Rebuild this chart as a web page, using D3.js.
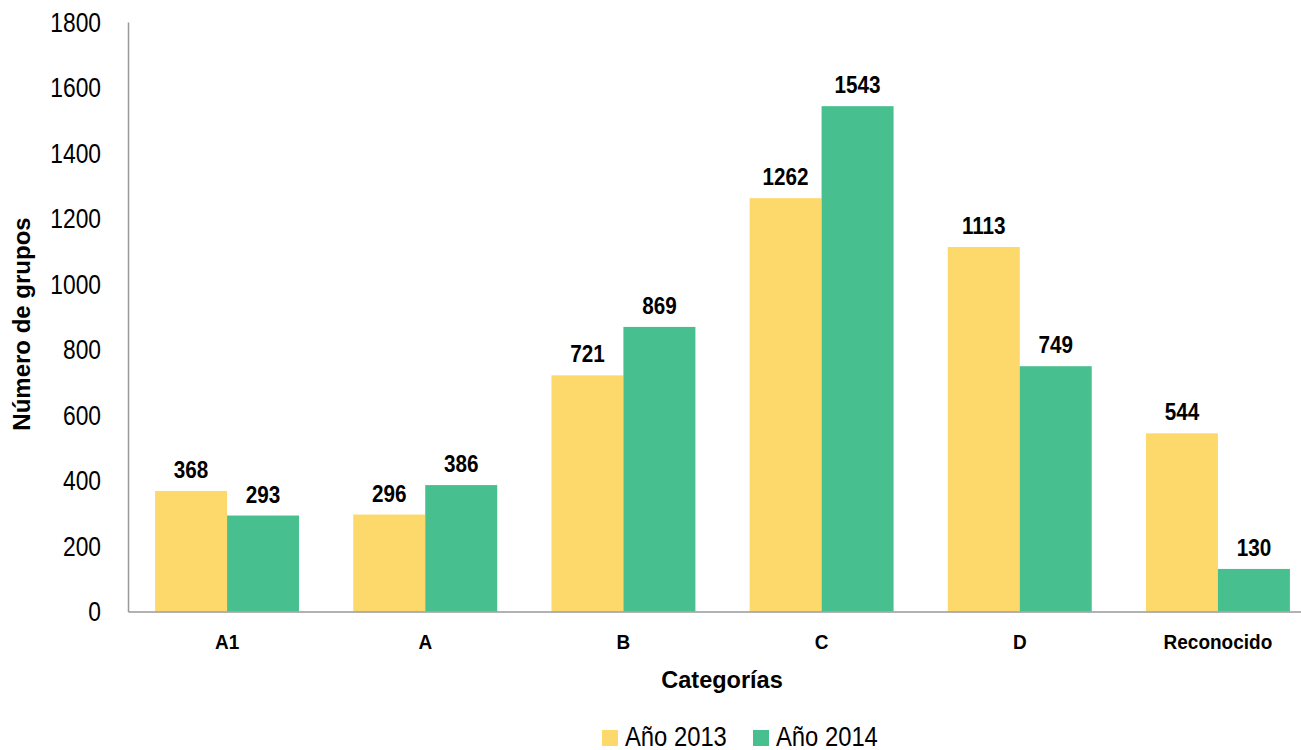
<!DOCTYPE html>
<html>
<head>
<meta charset="utf-8">
<script src="https://cdn.jsdelivr.net/npm/d3@7"></script>
<style>
  body { margin: 0; background: #fff; }
  text { font-family: "Liberation Sans", Arial, sans-serif; fill: #000; }
</style>
</head>
<body>
<div id="chart"></div>
<script>
const width = 1301;
const height = 750;

// Data
const categories = ["A1", "A", "B", "C", "D", "Reconocido"];
const series = ["Año 2013", "Año 2014"];
const values2013 = [368, 296, 721, 1262, 1113, 544];
const values2014 = [293, 386, 869, 1543, 749, 130];
const yTicks = [0, 200, 400, 600, 800, 1000, 1200, 1400, 1600, 1800];
const colors = ["#FDD86A", "#48BF8E"];

const margin = { top: 22, left: 128 };
const plotW = 1189;   // plot area runs a bit past the right edge, as in the original
const plotH = 589.5;

// squeeze text horizontally around its own x (no narrow font installed)
function condense(sel, k) {
  sel.each(function () {
    const t = d3.select(this);
    const x0 = +t.attr("x") || 0;
    t.attr("transform", `translate(${x0},0) scale(${k},1) translate(${-x0},0)`);
  });
}

const svg = d3.select("#chart").append("svg")
  .attr("width", width)
  .attr("height", height);

const g = svg.append("g").attr("transform", `translate(${margin.left},${margin.top})`);

const x = d3.scaleBand().domain(categories).range([0, plotW]).paddingInner(0.2735).paddingOuter(0.1367);
const xs = d3.scaleBand().domain(series).range([0, x.bandwidth()]);
const y = d3.scaleLinear().domain([0, 1800]).range([plotH, 0]);

const rows = categories.map((c, i) => ({ cat: c, vals: [values2013[i], values2014[i]] }));

// bars
const grp = g.selectAll(".grp")
  .data(rows)
  .join("g")
  .attr("transform", d => `translate(${x(d.cat)},0)`);

grp.selectAll("rect")
  .data(d => d.vals.map((v, k) => ({ s: series[k], v, k })))
  .join("rect")
  .attr("x", d => xs(d.s))
  .attr("y", d => y(d.v))
  .attr("width", xs.bandwidth())
  .attr("height", d => plotH - y(d.v))
  .attr("fill", d => colors[d.k]);

// value labels
grp.selectAll("text")
  .data(d => d.vals.map((v, k) => ({ s: series[k], v, k })))
  .join("text")
  .attr("x", d => xs(d.s) + xs.bandwidth() / 2)
  .attr("y", d => y(d.v) - 13)
  .attr("text-anchor", "middle")
  .attr("font-size", 23.5)
  .attr("font-weight", "bold")
  .text(d => d.v)
  .call(condense, 0.88);

// y axis
const yAxis = g.append("g")
  .call(d3.axisLeft(y).tickValues(yTicks).tickSize(0).tickPadding(27).tickFormat(d3.format("d")));
yAxis.select(".domain").attr("stroke", "#999").attr("stroke-width", 1.5);
yAxis.selectAll("text").attr("font-size", 28.5).attr("font-family", null).call(condense, 0.8);

// x axis
const xAxis = g.append("g")
  .attr("transform", `translate(0,${plotH})`)
  .call(d3.axisBottom(x).tickSize(0).tickPadding(38));
xAxis.select(".domain").attr("stroke", "#999").attr("stroke-width", 1.5);
xAxis.selectAll("text").attr("font-size", 20).attr("font-weight", "bold").attr("font-family", null)
  .attr("dy", 0).call(condense, 0.95);

// axis titles
svg.append("text")
  .attr("x", 722)
  .attr("y", 688)
  .attr("text-anchor", "middle")
  .attr("font-size", 23.5)
  .attr("font-weight", "bold")
  .text("Categorías");

svg.append("text")
  .attr("transform", `translate(30,324) rotate(-90)`)
  .attr("text-anchor", "middle")
  .attr("font-size", 24)
  .attr("font-weight", "bold")
  .text("Número de grupos");

// legend
const legend = svg.append("g").attr("transform", "translate(602,730)");
const li = legend.selectAll("g")
  .data(series)
  .join("g")
  .attr("transform", (d, i) => `translate(${i * 151},0)`);
li.append("rect").attr("width", 16).attr("height", 16).attr("fill", (d, i) => colors[i]);
li.append("text").attr("x", 23).attr("y", 16).attr("font-size", 28).text(d => d).call(condense, 0.85);
</script>
</body>
</html>
